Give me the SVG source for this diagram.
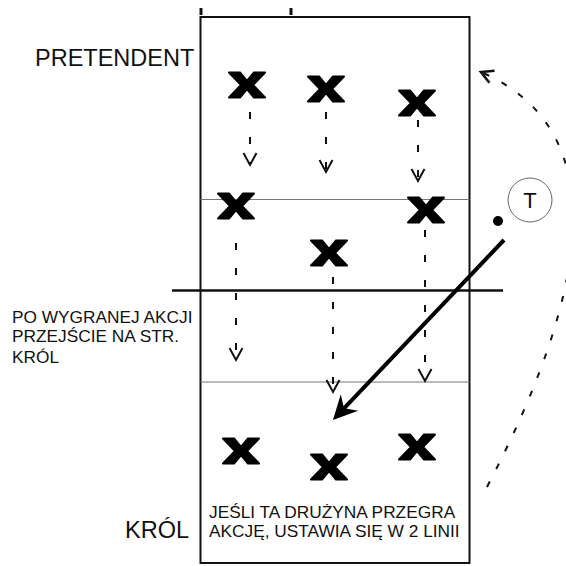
<svg xmlns="http://www.w3.org/2000/svg" xmlns:xlink="http://www.w3.org/1999/xlink" width="566" height="566" viewBox="0 0 566 566">
<style>
text{font-family:"Liberation Sans",Arial,sans-serif;fill:#111}
.big{font-size:23.5px}
.small{font-size:17.3px}
.court{fill:none;stroke:#111;stroke-width:2}
.thin{stroke:#777;stroke-width:1}
.mid{stroke:#111;stroke-width:2.5}
.player{fill:#000;stroke:#000;stroke-width:2;stroke-linejoin:round}
.move{fill:none;stroke:#111;stroke-width:2;stroke-dasharray:7 18;marker-end:url(#vhead)}
.run{fill:none;stroke:#111;stroke-width:2;stroke-dasharray:6 14;marker-end:url(#vhead2)}
.pass{fill:none;stroke:#000;stroke-width:4;marker-end:url(#solid)}
</style>
<defs>
<marker id="vhead" markerUnits="userSpaceOnUse" orient="auto" refX="0" refY="0" markerWidth="1" markerHeight="1" overflow="visible">
<path d="M-12,-6.5 L0,0 L-12,6.5" fill="none" stroke="#111" stroke-width="2"/>
</marker>
<marker id="vhead2" markerUnits="userSpaceOnUse" orient="auto" refX="0" refY="0" markerWidth="1" markerHeight="1" overflow="visible">
<path d="M-12,-6.5 L0,0 L-12,6.5" fill="none" stroke="#111" stroke-width="2.6"/>
</marker>
<marker id="solid" markerUnits="userSpaceOnUse" orient="auto" refX="0" refY="0" markerWidth="1" markerHeight="1" overflow="visible">
<path d="M14,0 L-10,-12 L-2,0 L-10,12 Z" fill="#000"/>
</marker>
<path id="xmark" d="M-18,-12.5 L-7,-12.5 L0,-4 L7,-12.5 L18,-12.5 L6,0 L18,12.5 L7,12.5 L0,4 L-7,12.5 L-18,12.5 L-6,0 Z"/>
</defs>

<g id="court">
<rect class="court" x="200.5" y="17" width="269" height="546"/>
<line class="thin" x1="200.5" y1="199.5" x2="469.5" y2="199.5"/>
<line class="mid" x1="172" y1="290.5" x2="503" y2="290.5"/>
<line class="thin" x1="200.5" y1="382" x2="469.5" y2="382"/>
<line x1="201" y1="8" x2="201" y2="15" stroke="#111" stroke-width="3"/>
<line x1="291" y1="8" x2="291" y2="15" stroke="#111" stroke-width="3"/>
</g>

<g id="label-pretendent"><text class="big" x="35" y="65.7">PRETENDENT</text></g>
<g id="label-krol"><text class="big" x="125" y="537.5">KRÓL</text></g>
<g id="label-wygrana">
<text class="small" x="12" y="322.7">PO WYGRANEJ AKCJI</text>
<text class="small" x="12" y="341.7">PRZEJŚCIE NA STR.</text>
<text class="small" x="12" y="362.7">KRÓL</text>
</g>
<g id="label-przegrana">
<text class="small" x="209" y="518.3">JEŚLI TA DRUŻYNA PRZEGRA</text>
<text class="small" x="209" y="536.7">AKCJĘ, USTAWIA SIĘ W 2 LINII</text>
</g>

<g id="p1" class="player"><use xlink:href="#xmark" x="247" y="85"/></g>
<g id="p2" class="player"><use xlink:href="#xmark" x="326" y="89"/></g>
<g id="p3" class="player"><use xlink:href="#xmark" x="417" y="103"/></g>
<g id="p4" class="player"><use xlink:href="#xmark" x="236" y="206"/></g>
<g id="p5" class="player"><use xlink:href="#xmark" x="426" y="210"/></g>
<g id="p6" class="player"><use xlink:href="#xmark" x="329" y="253"/></g>
<g id="p7" class="player"><use xlink:href="#xmark" x="241" y="451"/></g>
<g id="p8" class="player"><use xlink:href="#xmark" x="329" y="467"/></g>
<g id="p9" class="player"><use xlink:href="#xmark" x="417" y="447"/></g>

<g id="trainer">
<circle cx="530" cy="200" r="22" fill="none" stroke="#666" stroke-width="1"/>
<text x="530" y="208" font-size="22" text-anchor="middle">T</text>
</g>
<g id="ball"><circle cx="498" cy="221" r="5" fill="#000"/></g>

<g id="connectors">
<line class="move" x1="250" y1="112" x2="250" y2="165"/>
<line class="move" x1="326" y1="112" x2="326" y2="172"/>
<line class="move" x1="418" y1="120" x2="418" y2="181"/>
<line class="move" x1="236" y1="243" x2="236" y2="360"/>
<line class="move" x1="333" y1="277" x2="333" y2="392"/>
<line class="move" x1="425" y1="230" x2="425" y2="381"/>
<line class="pass" x1="504" y1="240" x2="342.6" y2="409.8"/>
<path class="run" d="M487,487 C590,290 615,130 481,72"/>
</g>
</svg>
